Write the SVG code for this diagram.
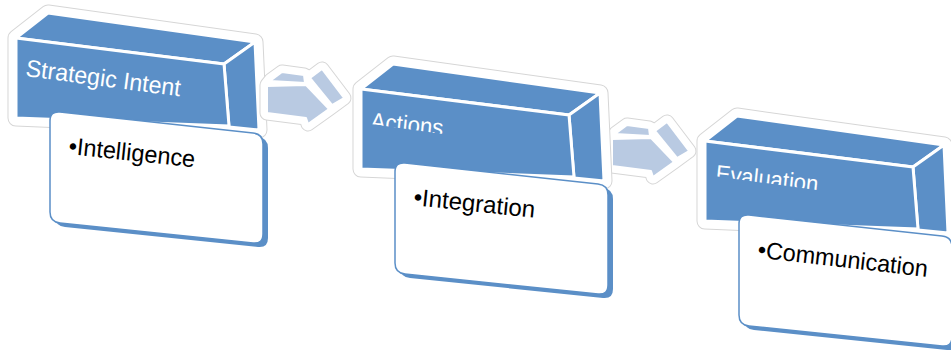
<svg xmlns="http://www.w3.org/2000/svg" xmlns:xlink="http://www.w3.org/1999/xlink" width="951" height="358" viewBox="0 0 951 358">
<defs>
<style>
.halo-o{fill:none;stroke:#d6d6d6;stroke-width:17;stroke-linejoin:round}
.halo-i{fill:#fff;stroke:#fff;stroke-width:15;stroke-linejoin:round}
.face{fill:#5b8fc7;stroke:#fff;stroke-width:3;stroke-linejoin:round}
.depth{fill:#5b8fc7}
.card{fill:#fff;stroke:#5b8fc7;stroke-width:1.5}
.title{font-family:"Liberation Sans",Arial,sans-serif;font-size:24px;fill:#fff}
.item{font-family:"Liberation Sans",Arial,sans-serif;font-size:24px;fill:#000}
.ahalo-o{fill:none;stroke:#d6d6d6;stroke-width:15;stroke-linejoin:round}
.ahalo-i{fill:#fff;stroke:#fff;stroke-width:13;stroke-linejoin:round}
.arr{fill:#b9cae2;stroke:#fff;stroke-width:2;stroke-linejoin:round}
</style>
<clipPath id="clipTitle"><polygon points="0,0 270,0 270,106.6 0,69.6"/></clipPath>
<path id="cardShape" d="M60,112 L253,133 Q263,134 263,144 L263,234 Q263,244 253,243 L60,223 Q50,222 50,212 L50,121 Q50,111 60,112 Z"/>
<g id="box">
  <polygon class="halo-o" points="16,38 48,13 255,42 259,130 229,127 16,118"/>
  <polygon class="halo-i" points="16,38 48,13 255,42 259,130 229,127 16,118"/>
  <polygon class="face" points="16,38 48,13 255,42 224,64"/>
  <polygon class="face" points="224,64 255,42 259,130 229,127"/>
  <polygon class="face" points="16,38 224,64 229,126 16,118"/>
  <use xlink:href="#cardShape" class="depth" transform="translate(5,4)"/>
  <use xlink:href="#cardShape" class="card"/>
</g>
<g id="arrowShape">
  <polygon class="ahalo-o" points="267,85 271,80 282,72 304,75 310,78 322,69 344,98 329,109 308,124 306,118 267,113"/>
  <polygon class="ahalo-i" points="267,85 271,80 282,72 304,75 310,78 322,69 344,98 329,109 308,124 306,118 267,113"/>
  <polygon class="arr" points="270,81 282,72 304,75 305,83"/>
  <polygon class="arr" points="310,78 322,69 344,98 332,105"/>
  <polygon class="arr" points="267,86 306,85 329,109 308,124 306,118 267,113"/>
</g>
</defs>

<g id="node1">
  <use xlink:href="#box"/>
  <text class="title" transform="translate(25,76) rotate(7.5)" textLength="156" lengthAdjust="spacingAndGlyphs">Strategic Intent</text>
  <text class="item" transform="translate(68,154) rotate(6)" textLength="127" lengthAdjust="spacingAndGlyphs">•Intelligence</text>
</g>

<g id="connectors">
  <use xlink:href="#arrowShape"/>
  <use xlink:href="#arrowShape" transform="translate(345,53)"/>
</g>

<g id="node2" transform="translate(345,51)">
  <use xlink:href="#box"/>
  <g clip-path="url(#clipTitle)">
    <text class="title" transform="translate(25,78) rotate(5.5)" textLength="73" lengthAdjust="spacingAndGlyphs">Actions</text>
  </g>
  <text class="item" transform="translate(68,154) rotate(6)" textLength="122" lengthAdjust="spacingAndGlyphs">•Integration</text>
</g>

<g id="node3" transform="translate(689,103)">
  <use xlink:href="#box"/>
  <g clip-path="url(#clipTitle)">
    <text class="title" transform="translate(26,78.5) rotate(6)" textLength="103" lengthAdjust="spacingAndGlyphs">Evaluation</text>
  </g>
  <text class="item" transform="translate(68,154.5) rotate(6.5)" textLength="171" lengthAdjust="spacingAndGlyphs">•Communication</text>
</g>
</svg>
